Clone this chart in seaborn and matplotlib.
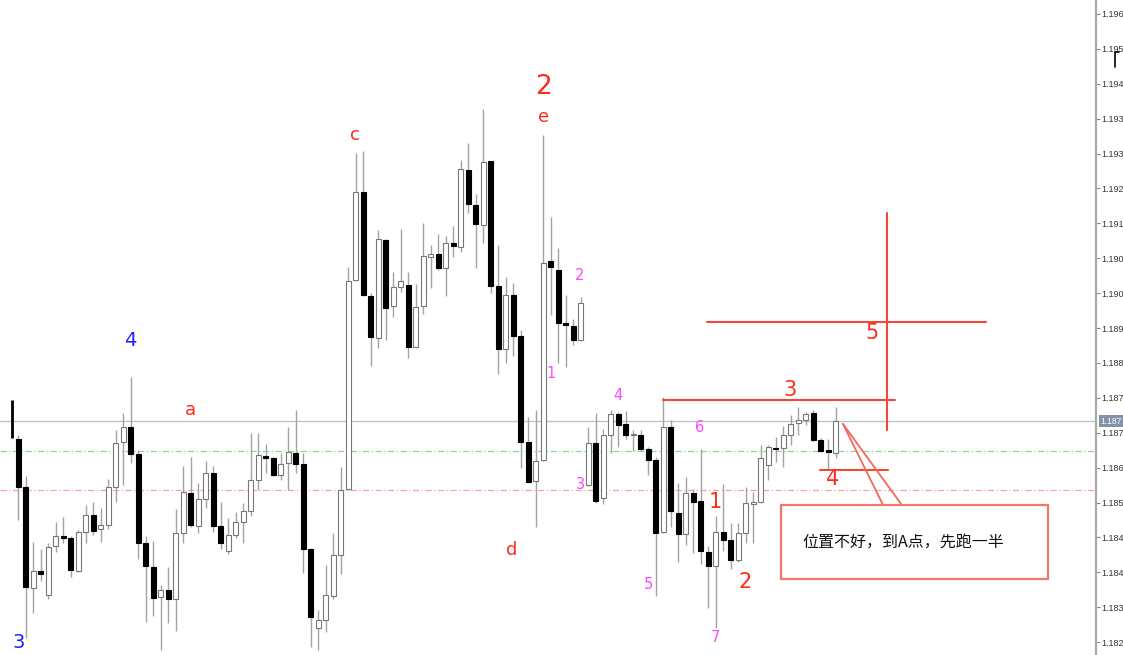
import matplotlib
matplotlib.use("Agg")
import matplotlib.pyplot as plt
import matplotlib.transforms as mtransforms
from matplotlib.lines import Line2D
from matplotlib.patches import Rectangle
import numpy as np
import pandas as pd
import seaborn as sns

# OHLC, one entry per bar, oldest first
opens = [1.18687, 1.18583, 1.18366, 1.18403, 1.18351, 1.18457, 1.18478, 1.18474, 1.18403, 1.18487,
         1.18523, 1.18493, 1.18502, 1.18583, 1.18680, 1.18712, 1.18654, 1.18463, 1.18412, 1.18347,
         1.18362, 1.18343, 1.18485, 1.18571, 1.18500, 1.18558, 1.18614, 1.18500, 1.18446, 1.18480,
         1.18508, 1.18532, 1.18598, 1.18650, 1.18646, 1.18609, 1.18635, 1.18657, 1.18633, 1.18450,
         1.18280, 1.18298, 1.18349, 1.18437, 1.18579, 1.19028, 1.19217, 1.18994, 1.18904, 1.19114,
         1.18972, 1.19013, 1.19018, 1.18884, 1.18972, 1.19078, 1.19084, 1.19054, 1.19108, 1.19099,
         1.19265, 1.19189, 1.19147, 1.19284, 1.19015, 1.18880, 1.18996, 1.18908, 1.18680, 1.18596,
         1.18641, 1.19069, 1.19050, 1.18936, 1.18929, 1.18899, 1.18588, 1.18678, 1.18560, 1.18695,
         1.18740, 1.18719, 1.18695, 1.18695, 1.18665, 1.18641, 1.18487, 1.18712, 1.18528, 1.18482,
         1.18571, 1.18553, 1.18444, 1.18414, 1.18487, 1.18470, 1.18427, 1.18485, 1.18547, 1.18551,
         1.18631, 1.18667, 1.18667, 1.18695, 1.18721, 1.18727, 1.18743, 1.18684, 1.18661, 1.18657]
highs = [1.18695, 1.18607, 1.18465, 1.18450, 1.18463, 1.18508, 1.18519, 1.18478, 1.18491, 1.18545,
         1.18551, 1.18538, 1.18601, 1.18706, 1.18743, 1.18820, 1.18663, 1.18478, 1.18467, 1.18373,
         1.18412, 1.18536, 1.18629, 1.18648, 1.18592, 1.18639, 1.18629, 1.18551, 1.18517, 1.18530,
         1.18549, 1.18700, 1.18700, 1.18676, 1.18648, 1.18657, 1.18712, 1.18749, 1.18657, 1.18452,
         1.18319, 1.18416, 1.18485, 1.18627, 1.19056, 1.19301, 1.19306, 1.19000, 1.19136, 1.19116,
         1.19046, 1.19138, 1.19046, 1.19020, 1.19151, 1.19104, 1.19127, 1.19123, 1.19144, 1.19286,
         1.19323, 1.19213, 1.19396, 1.19284, 1.19104, 1.19035, 1.19022, 1.18921, 1.18734, 1.18749,
         1.19340, 1.19164, 1.19097, 1.18996, 1.18945, 1.18992, 1.18712, 1.18743, 1.18708, 1.18749,
         1.18745, 1.18747, 1.18706, 1.18706, 1.18669, 1.18648, 1.18777, 1.18727, 1.18592, 1.18605,
         1.18579, 1.18665, 1.18457, 1.18521, 1.18590, 1.18506, 1.18506, 1.18583, 1.18573, 1.18674,
         1.18674, 1.18691, 1.18715, 1.18738, 1.18755, 1.18745, 1.18749, 1.18689, 1.18687, 1.18755]
lows = [1.18513, 1.18259, 1.18313, 1.18381, 1.18343, 1.18444, 1.18463, 1.18390, 1.18401, 1.18463,
        1.18480, 1.18465, 1.18493, 1.18551, 1.18588, 1.18635, 1.18429, 1.18293, 1.18306, 1.18233,
        1.18291, 1.18274, 1.18463, 1.18498, 1.18485, 1.18538, 1.18487, 1.18450, 1.18440, 1.18474,
        1.18463, 1.18521, 1.18577, 1.18614, 1.18607, 1.18598, 1.18577, 1.18614, 1.18399, 1.18240,
        1.18233, 1.18272, 1.18343, 1.18397, 1.18577, 1.19026, 1.18994, 1.18844, 1.18882, 1.18899,
        1.18949, 1.19003, 1.18861, 1.18882, 1.18955, 1.19011, 1.19050, 1.18994, 1.19078, 1.19089,
        1.19172, 1.19054, 1.19108, 1.19000, 1.18826, 1.18850, 1.18865, 1.18624, 1.18592, 1.18498,
        1.18639, 1.18953, 1.18850, 1.18841, 1.18889, 1.18897, 1.18586, 1.18549, 1.18547, 1.18657,
        1.18669, 1.18687, 1.18661, 1.18661, 1.18609, 1.18349, 1.18485, 1.18498, 1.18422, 1.18459,
        1.18442, 1.18418, 1.18323, 1.18280, 1.18446, 1.18407, 1.18422, 1.18463, 1.18463, 1.18549,
        1.18598, 1.18637, 1.18627, 1.18674, 1.18695, 1.18717, 1.18682, 1.18659, 1.18620, 1.18646]
closes = [1.18583, 1.18369, 1.18403, 1.18397, 1.18455, 1.18478, 1.18474, 1.18405, 1.18487, 1.18523,
          1.18489, 1.18502, 1.18583, 1.18678, 1.18712, 1.18654, 1.18463, 1.18414, 1.18345, 1.18362,
          1.18343, 1.18485, 1.18573, 1.18502, 1.18558, 1.18614, 1.18500, 1.18463, 1.18480, 1.18508,
          1.18532, 1.18598, 1.18652, 1.18646, 1.18609, 1.18633, 1.18659, 1.18633, 1.18450, 1.18304,
          1.18298, 1.18351, 1.18437, 1.18577, 1.19026, 1.19217, 1.18996, 1.18906, 1.19116, 1.18968,
          1.19013, 1.19026, 1.18884, 1.18970, 1.19080, 1.19084, 1.19054, 1.19108, 1.19101, 1.19267,
          1.19192, 1.19149, 1.19282, 1.19015, 1.18880, 1.18996, 1.18908, 1.18680, 1.18594, 1.18639,
          1.19065, 1.19056, 1.18936, 1.18932, 1.18899, 1.18979, 1.18678, 1.18553, 1.18695, 1.18740,
          1.18717, 1.18695, 1.18697, 1.18665, 1.18641, 1.18485, 1.18712, 1.18532, 1.18482, 1.18571,
          1.18551, 1.18446, 1.18414, 1.18487, 1.18470, 1.18427, 1.18485, 1.18549, 1.18551, 1.18646,
          1.18669, 1.18665, 1.18695, 1.18719, 1.18727, 1.18740, 1.18684, 1.18661, 1.18659, 1.18725]

# horizontal reference levels
bid_price = 1.18725
green_level = 1.18661
red_level = 1.18577

# price scale on the right (labels show as the terminal crops them)
tick_start, tick_step, tick_count = 1.18250, 0.00075, 19
y_range = (1.182225, 1.19630)
x_range = (-2.44, 143.7)

# wave labels: text, bar position, price, colour, size
label_text = ["4", "3", "a", "c", "2", "e", "d",
              "2", "1", "3", "4", "6", "5", "7",
              "1", "2", "3", "4", "5"]
label_bar = [14.9, 0, 22.9, 44.9, 70, 70, 65.8,
             74.9, 71, 74.9, 80, 90.9, 84, 92.9,
             92.9, 96.9, 102.9, 108.6, 113.8]
label_price = [1.18899, 1.18249, 1.18749, 1.19340, 1.19443, 1.19379, 1.18448,
               1.19039, 1.18828, 1.18588, 1.18781, 1.18712, 1.18373, 1.18261,
               1.18551, 1.18379, 1.18792, 1.18601, 1.18914]
label_kind = ["blue", "blue", "red", "red", "bigred", "red", "red",
              "pink", "pink", "pink", "pink", "pink", "pink", "pink",
              "midred", "midred", "midred", "midred", "midred"]

# hand-drawn trend marks: (bar from, bar to, price from, price to)
marks = [(85.96, 116.9, 1.18770, 1.18770),
         (115.8, 115.8, 1.19172, 1.18706),
         (91.8, 129.0, 1.18938, 1.18938),
         (106.9, 115.96, 1.18620, 1.18620)]

note_text = "位置不好，到A点，先跑一半"
note_box = (101.7, 137.3, 1.18386, 1.18545)
note_tip = (109.96, 1.18719)
note_base = [115.3, 117.8]

sns.set_style("white")
plt.rcParams["font.family"] = ["DejaVu Sans"]

df = pd.DataFrame({"open": opens, "high": highs, "low": lows, "close": closes})
df["bar"] = np.arange(len(df))
df["up"] = df["close"] >= df["open"]
df["bottom"] = df[["open", "close"]].min(axis=1)
df["height"] = (df["close"] - df["open"]).abs().clip(lower=0.00003)

fig = plt.figure(figsize=(11.23, 6.55), dpi=100)
ax = fig.add_axes([0, 0, 1096 / 1123, 1])

# level lines
ax.axhline(bid_price, color="#bcc3cd", lw=1, zorder=1)
ax.axhline(green_level, color="#8fd68f", lw=0.9, ls=(0, (5, 2, 1, 2)), zorder=1)
ax.axhline(red_level, color="#f5a3a3", lw=0.9, ls=(0, (5, 2, 1, 2)), zorder=1)

# candles
ax.vlines(df["bar"], df["low"], df["high"], color="#a3a3a3", lw=1, zorder=2)
up = df[df["up"]]
down = df[~df["up"]]
ax.bar(up["bar"], up["height"], bottom=up["bottom"], width=0.68,
       color="white", edgecolor="#777777", linewidth=0.8, zorder=3)
ax.bar(down["bar"], down["height"], bottom=down["bottom"], width=0.68,
       color="black", edgecolor="black", linewidth=0.8, zorder=3)

# period separator tick at the left edge
ax.vlines(-0.84, 1.18689, 1.18770, color="black", lw=2, zorder=4)

# labels
styles = {"blue": ("#1f1fff", 14), "red": ("#ff2a1a", 13), "bigred": ("#ff2a1a", 19),
          "midred": ("#ff2a1a", 15), "pink": ("#ff45ff", 10.5)}
for txt, bx, py, kind in zip(label_text, label_bar, label_price, label_kind):
    col, size = styles[kind]
    ax.text(bx, py, txt, color=col, fontsize=size, ha="center", va="center", zorder=6)

for x0, x1, y0, y1 in marks:
    ax.plot([x0, x1], [y0, y1], color="#f2473a", lw=1.5, zorder=5)

# callout
bx0, bx1, by0, by1 = note_box
for xb in note_base:
    ax.plot([note_tip[0], xb], [note_tip[1], by1], color="#f2675a", lw=1.3, zorder=5)
ax.add_patch(Rectangle((bx0, by0), bx1 - bx0, by1 - by0, facecolor="white",
                       edgecolor="#f2776a", lw=1.6, zorder=6))
ax.text(bx0 + 2.8, (by0 + by1) / 2, note_text, fontsize=11.5, color="#111111",
        ha="left", va="center", zorder=7, family=["Noto Sans CJK SC", "DejaVu Sans"])

# axes
ax.set_xlim(*x_range)
ax.set_ylim(*y_range)
ticks = tick_start + tick_step * np.arange(tick_count)
ax.set_yticks(ticks)
ax.set_yticklabels([f"{np.floor(t * 1000 + 1e-6) / 1000:.3f}" for t in ticks],
                   family="Liberation Sans")
ax.yaxis.tick_right()
ax.set_xticks([])
ax.tick_params(axis="y", right=True, left=False, length=3, width=0.8, color="#888888",
               pad=1, labelsize=6.5, labelcolor="#333333")
for side in ["top", "left", "bottom"]:
    ax.spines[side].set_visible(False)
ax.spines["right"].set_color("#a9a9a9")
ax.spines["right"].set_linewidth(1.6)
ax.grid(False)

# current price box
trans = mtransforms.blended_transform_factory(ax.transAxes, ax.transData)
ax.text(1.004, bid_price, f"{np.floor(bid_price * 1000) / 1000:.3f}", transform=trans,
        fontsize=6.2, color="white", family="Liberation Sans",
        ha="left", va="center", zorder=8,
        bbox=dict(boxstyle="square,pad=0.15", facecolor="#8292a8", edgecolor="none"))

# chart shift marker
fig.add_artist(Line2D([1119 / 1123, 1115 / 1123, 1115 / 1123],
                      [1 - 52 / 655, 1 - 52 / 655, 1 - 67 / 655],
                      color="black", lw=1.2))

fig.savefig("out.png", dpi=100)
